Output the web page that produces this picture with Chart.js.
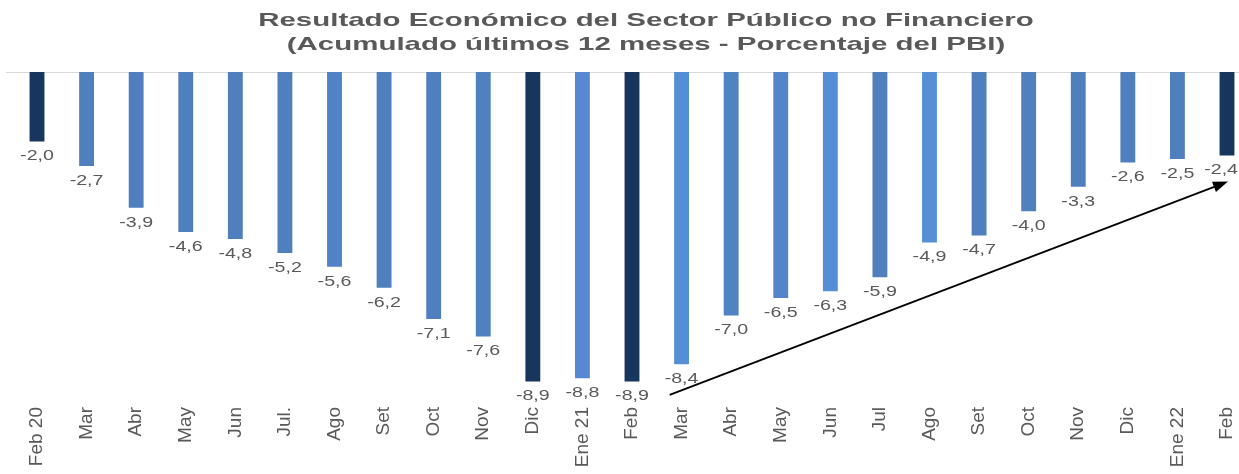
<!DOCTYPE html>
<html>
<head>
<meta charset="utf-8">
<script src="https://cdn.jsdelivr.net/npm/chart.js@4.4.1/dist/chart.umd.min.js"></script>
<style>
  html, body { margin: 0; padding: 0; background: #fff; }
  #wrap { width: 1239px; height: 474px; }
</style>
</head>
<body>
<div id="wrap"><canvas id="myChart"></canvas></div>
<script>
var labels = ['Feb 20', 'Mar', 'Abr', 'May', 'Jun', 'Jul.', 'Ago', 'Set', 'Oct', 'Nov', 'Dic', 'Ene 21',
              'Feb', 'Mar', 'Abr', 'May', 'Jun', 'Jul', 'Ago', 'Set', 'Oct', 'Nov', 'Dic', 'Ene 22', 'Feb'];
var values = [-2.0, -2.7, -3.9, -4.6, -4.8, -5.2, -5.6, -6.2, -7.1, -7.6, -8.9, -8.8,
              -8.9, -8.4, -7.0, -6.5, -6.3, -5.9, -4.9, -4.7, -4.0, -3.3, -2.6, -2.5, -2.4];
var barColors = ['#17365d', '#4f80bd', '#4f80bd', '#4f7fbd', '#4f80bd', '#4f80bd', '#4f82c6', '#4f80bd', '#4f80bd', '#4f80c0', '#17365d', '#5789d2',
                 '#17365d', '#558ed5', '#4f83c2', '#5485cc', '#558ed5', '#4f7fbd', '#558fd6', '#4f7fbd', '#4f82bd', '#4f7fbd', '#4f7fbd', '#4f80bd', '#17365d'];
var titleLines = ['Resultado Económico del Sector Público no Financiero',
                  '(Acumulado últimos 12 meses - Porcentaje del PBI)'];
// arrow: [category index, value] at start and end
var arrowFrom = [12.76, -9.28];
var arrowTo = [24.02, -3.15];

var textGray = '#595959';

var extrasPlugin = {
  id: 'extras',
  beforeDatasetsDraw: function (chart) {
    var ctx = chart.ctx;
    var y0 = chart.scales.y.getPixelForValue(0);
    ctx.save();
    ctx.strokeStyle = '#d9d9d9';
    ctx.lineWidth = 1;
    ctx.beginPath();
    ctx.moveTo(6, y0 + 0.5);
    ctx.lineTo(chart.width, y0 + 0.5);
    ctx.stroke();
    ctx.restore();
  },
  afterDatasetsDraw: function (chart) {
    var ctx = chart.ctx;
    var meta = chart.getDatasetMeta(0);
    ctx.save();
    // title
    ctx.fillStyle = textGray;
    ctx.font = 'bold 19px "Liberation Sans", Arial, sans-serif';
    ctx.textAlign = 'center';
    ctx.textBaseline = 'middle';
    var cx = 646;
    [21, 45].forEach(function (ty, i) {
      ctx.save();
      ctx.translate(cx, ty);
      ctx.scale(1.55, 1);
      ctx.fillText(titleLines[i], 0, 0);
      ctx.restore();
    });
    // value labels (kept inside the canvas)
    ctx.font = '14px "Liberation Sans", Arial, sans-serif';
    var sx = 1.4;
    meta.data.forEach(function (bar, i) {
      var txt = values[i].toFixed(1).replace('.', ',');
      var half = ctx.measureText(txt).width * sx / 2;
      var lx = Math.min(bar.x, chart.width - half - 1);
      ctx.save();
      ctx.translate(lx, bar.y + 15);
      ctx.scale(sx, 1);
      ctx.fillText(txt, 0, 0);
      ctx.restore();
    });
    // arrow
    var xs = chart.scales.x, ys = chart.scales.y;
    var x1 = xs.getPixelForValue(arrowFrom[0]), y1 = ys.getPixelForValue(arrowFrom[1]);
    var x2 = xs.getPixelForValue(arrowTo[0]), y2 = ys.getPixelForValue(arrowTo[1]);
    var ang = Math.atan2(y2 - y1, x2 - x1);
    var head = 15;
    ctx.strokeStyle = '#000';
    ctx.fillStyle = '#000';
    ctx.lineWidth = 1.8;
    ctx.beginPath();
    ctx.moveTo(x1, y1);
    ctx.lineTo(x2 - head * 0.8 * Math.cos(ang), y2 - head * 0.8 * Math.sin(ang));
    ctx.stroke();
    ctx.beginPath();
    ctx.moveTo(x2, y2);
    ctx.lineTo(x2 - head * Math.cos(ang) + 5.5 * Math.sin(ang), y2 - head * Math.sin(ang) - 5.5 * Math.cos(ang));
    ctx.lineTo(x2 - head * Math.cos(ang) - 5.5 * Math.sin(ang), y2 - head * Math.sin(ang) + 5.5 * Math.cos(ang));
    ctx.closePath();
    ctx.fill();
    ctx.restore();
  }
};

var config = {
  type: 'bar',
  data: {
    labels: labels,
    datasets: [{
      data: values,
      backgroundColor: barColors,
      barPercentage: 0.3,
      categoryPercentage: 1,
      clip: false
    }]
  },
  options: {
    responsive: true,
    maintainAspectRatio: false,
    animation: false,
    layout: { padding: { top: 72, left: 37, right: 12, bottom: 0 } },
    plugins: {
      legend: { display: false },
      title: { display: false },
      tooltip: { enabled: false }
    },
    scales: {
      x: {
        offset: false,
        grid: { display: false, drawTicks: false },
        border: { display: false },
        ticks: {
          autoSkip: false,
          minRotation: 90,
          maxRotation: 90,
          padding: 8,
          color: textGray,
          font: { family: '"Liberation Sans", Arial, sans-serif', size: 19 }
        },
        afterFit: function (s) {
          s.height = 75;
          s.paddingLeft = 0;
          s.paddingRight = 0;
        }
      },
      y: {
        display: false,
        min: -9.4,
        max: 0
      }
    }
  },
  plugins: [extrasPlugin]
};

var myChart = new Chart(document.getElementById('myChart'), config);
</script>
</body>
</html>
